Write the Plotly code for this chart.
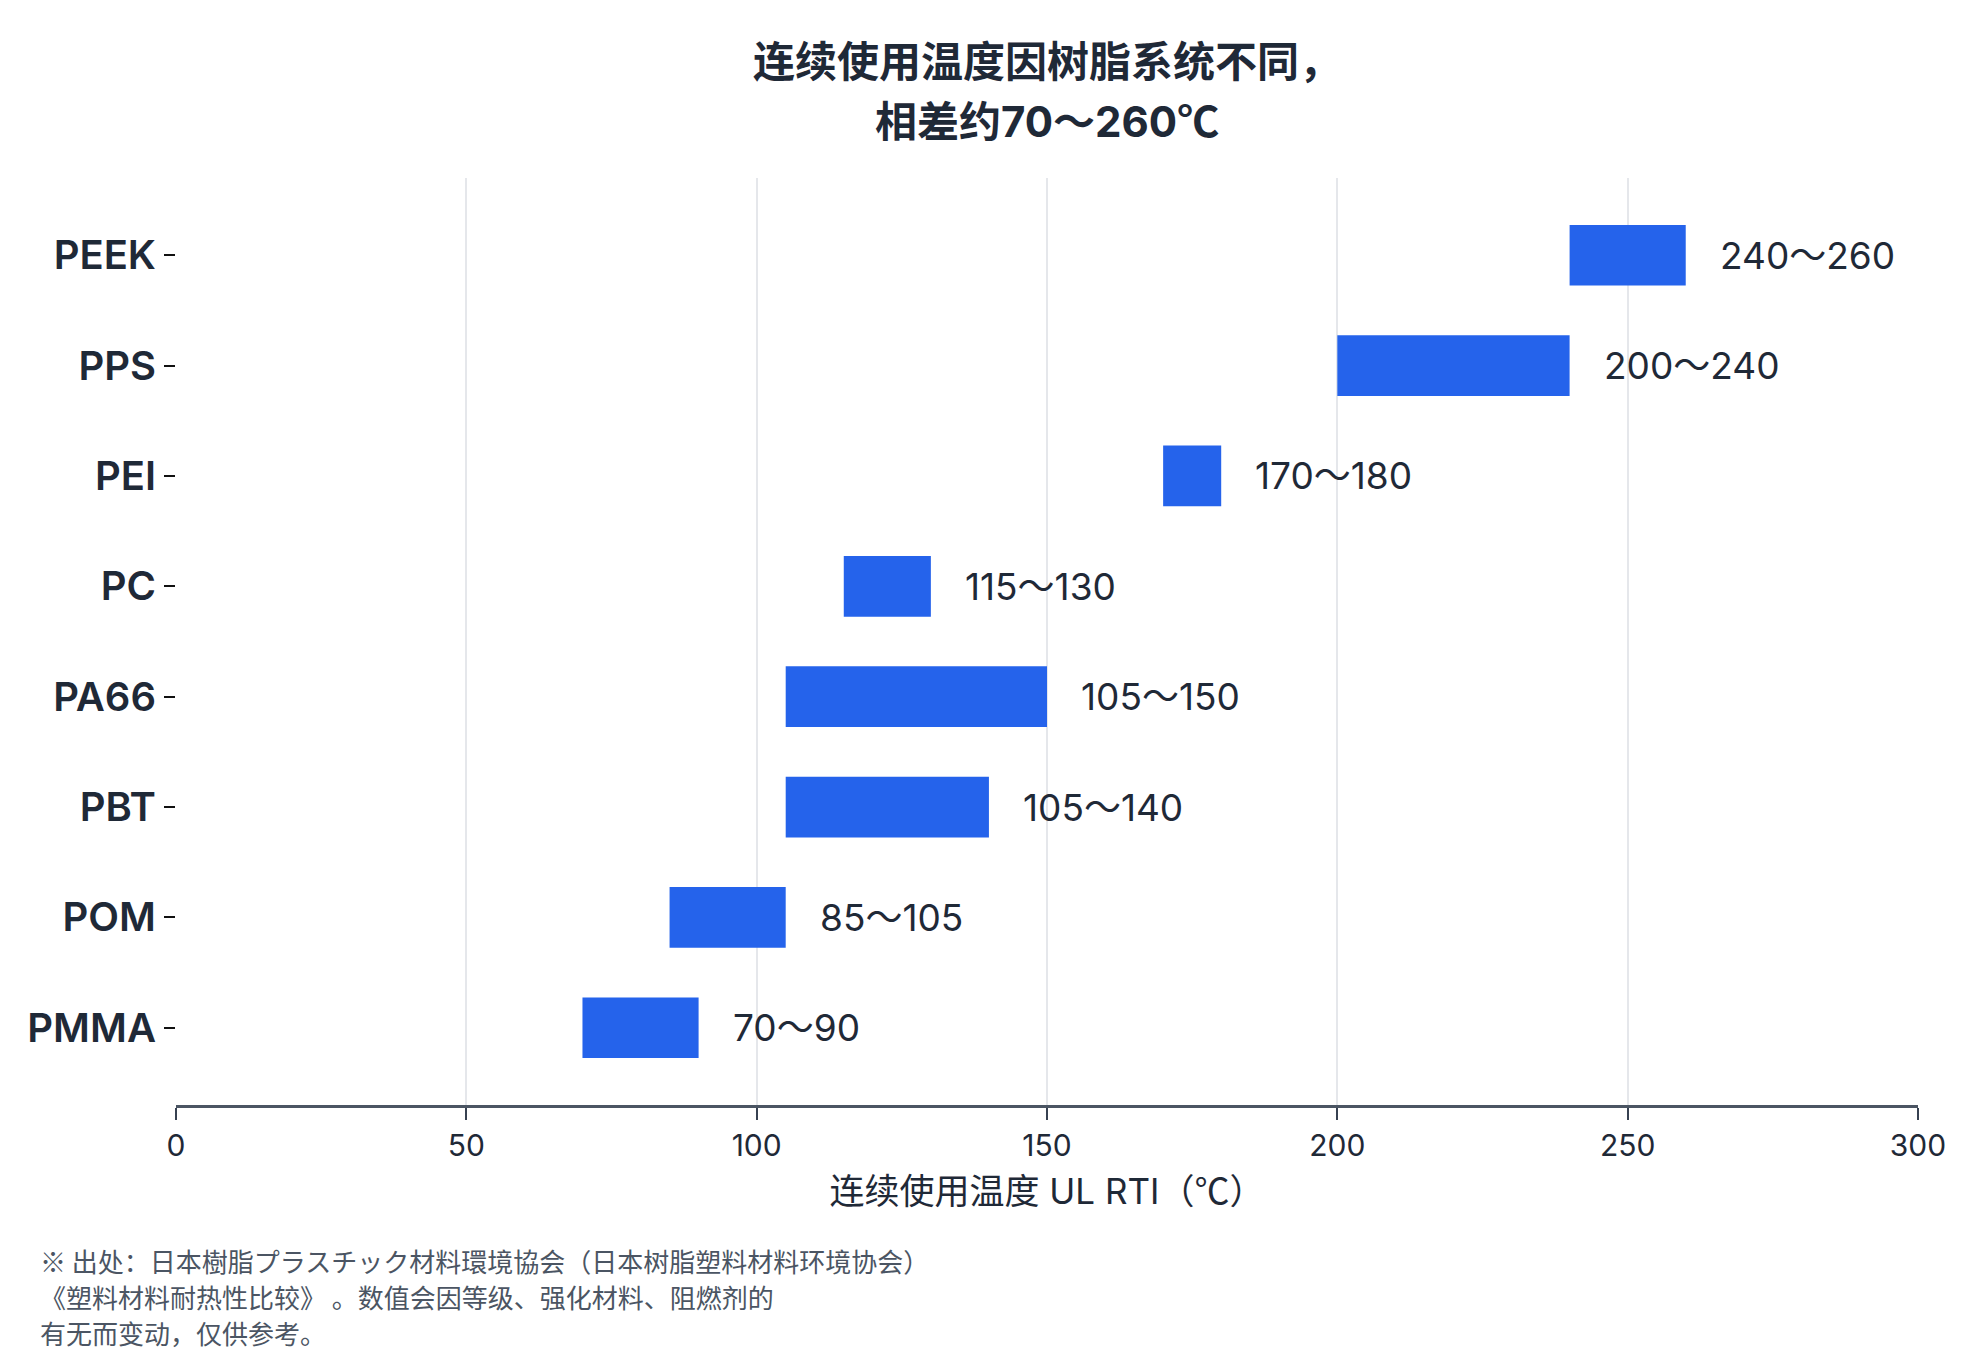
import plotly.graph_objects as go

# resin grades, bottom to top as drawn
resins = ["PMMA", "POM", "PBT", "PA66", "PC", "PEI", "PPS", "PEEK"]
temp_low = [70, 85, 105, 105, 115, 170, 200, 240]
temp_high = [90, 105, 140, 150, 130, 180, 240, 260]
x_ticks = [0, 50, 100, 150, 200, 250, 300]

CJK = "'Noto Sans CJK SC'"
degc = f"<span style=\"font-family:{CJK}\">℃</span>"
title_lines = ["连续使用温度因树脂系统不同，", f"相差约70～260{degc}"]
x_title = f"连续使用温度 UL RTI（{degc}）"
footer_lines = [
    "※ 出处：日本樹脂プラスチック材料環境協会（日本树脂塑料材料环境协会）",
    "《塑料材料耐热性比较》 。数值会因等级、强化材料、阻燃剂的",
    "有无而变动，仅供参考。",
]

FONT = f"Inter, {CJK}, sans-serif"
INK = "#1f2937"
BLUE = "#2563eb"

W, H = 1964, 1348
L, R, T, B = 168, 54, 170, 251
pw, ph = W - L - R, H - T - B


def px_to_paper(px, py):
    return (px - L) / pw, (H - B - py) / ph


spans = [h - l for l, h in zip(temp_low, temp_high)]
labels = [f"{l}～{h}" for l, h in zip(temp_low, temp_high)]

fig = go.Figure(go.Bar(
    y=resins,
    x=spans,
    base=temp_low,
    orientation="h",
    width=0.55,
    marker=dict(color=BLUE, line=dict(width=0)),
    hovertemplate="%{y}: %{base}～%{x}<extra></extra>",
))

# range labels to the right of each bar
for name, hi, lab in zip(resins, temp_high, labels):
    fig.add_annotation(
        x=hi, y=name, text=lab, showarrow=False,
        xanchor="left", yanchor="middle", xshift=32,
        font=dict(family=FONT, size=37, color=INK),
    )

# chart title, one annotation per line
for i, line in enumerate(title_lines):
    tx, ty = px_to_paper(0, 53 + i * 58)
    fig.add_annotation(
        x=0.5, y=ty, xref="paper", yref="paper", text=line,
        showarrow=False, xanchor="center", yanchor="middle",
        font=dict(family=FONT, size=42, color=INK, weight=700),
    )

# footnote, one annotation per line
for i, line in enumerate(footer_lines):
    fx, fy = px_to_paper(30, 1252 + i * 36.3)
    fig.add_annotation(
        x=fx, y=fy, xref="paper", yref="paper", text=line,
        showarrow=False, xanchor="left", yanchor="middle",
        font=dict(family=f"{CJK}, sans-serif", size=26, color="#4b5563"),
    )

fig.update_layout(
    width=W, height=H,
    margin=dict(l=L, r=R, t=T, b=B),
    paper_bgcolor="white",
    plot_bgcolor="white",
    showlegend=False,
    font=dict(family=FONT, color=INK),
    xaxis=dict(
        range=[0, 300],
        tickvals=x_ticks,
        showgrid=True, gridcolor="#e5e7eb", gridwidth=1.5,
        zeroline=False,
        showline=True, linecolor="#4b5563", linewidth=2.5,
        ticks="outside", ticklen=12, tickcolor="#374151", tickwidth=1.5,
        tickfont=dict(family=FONT, size=30, color=INK),
        title=dict(text=x_title, font=dict(family=FONT, size=35, color=INK), standoff=16),
    ),
    yaxis=dict(
        categoryorder="array", categoryarray=resins,
        range=[-0.7, 7.7],
        showgrid=False, zeroline=False, showline=False,
        ticks="outside", ticklen=11, tickcolor="#111111", tickwidth=1.5,
        tickfont=dict(family=FONT, size=40, color=INK, weight=600),
    ),
)

fig.write_html("out.html")
